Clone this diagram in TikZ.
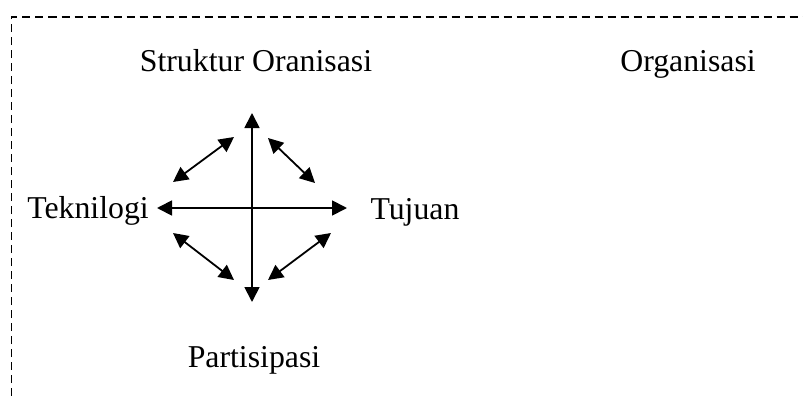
\documentclass[tikz,border=0pt]{standalone}
\usepackage{fontspec}
\setmainfont{Liberation Serif}
\usetikzlibrary{arrows.meta}
\tikzset{
  lbl/.style={inner sep=0pt, anchor=base, font=\fontsize{15.9}{19}\selectfont},
  twoway/.style={{Triangle[length=7.5pt,width=7.5pt]}-{Triangle[length=7.5pt,width=7.5pt]}, line width=0.9pt},
  frame/.style={dash pattern=on 4pt off 2.5pt, line width=0.6pt},
}

\begin{document}
\begin{tikzpicture}[x=0.5pt, y=-0.5pt]
\useasboundingbox (0,0) rectangle (803,396);
\draw[frame] (11.5,396) -- (11.5,17) -- (803,17);

\node[lbl] (struktur) at (256,71) {Struktur Oranisasi};
\node[lbl] (organisasi) at (688,71) {Organisasi};
\node[lbl] (teknologi) at (88,218) {Teknilogi};
\node[lbl] (tujuan) at (415,219) {Tujuan};
\node[lbl] (partisipasi) at (254,367) {Partisipasi};

% ends of the cross
\coordinate (top) at (252,113);
\coordinate (bottom) at (252,302);
\coordinate (left) at (157,208);
\coordinate (right) at (347,208);
\draw[twoway] (top) -- (bottom);
\draw[twoway] (left) -- (right);

% diagonal pairs
\foreach \n/\xa/\ya/\xb/\yb in {nw/173/182/234/137, ne/268/138/315/183,
                                sw/173/233/234/280, se/268/280/331/233}{
  \coordinate (\n a) at (\xa,\ya);
  \coordinate (\n b) at (\xb,\yb);
  \draw[twoway] (\n a) -- (\n b);
}
\end{tikzpicture}
\end{document}
